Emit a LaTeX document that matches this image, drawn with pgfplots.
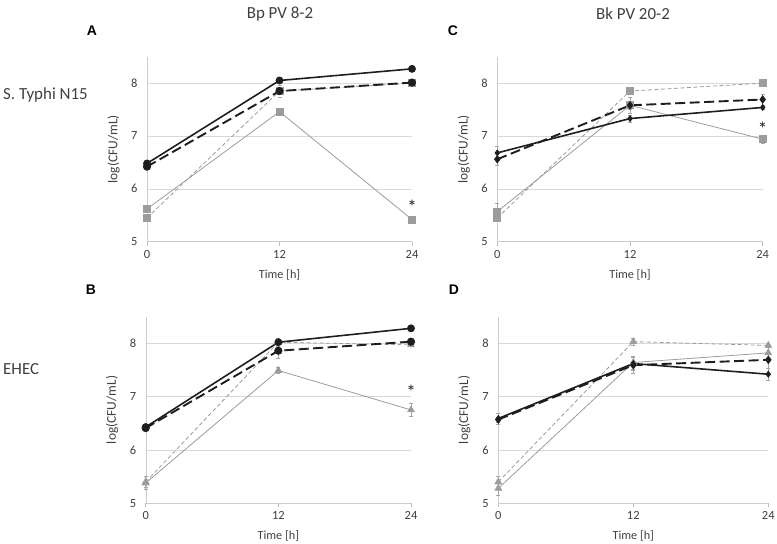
\documentclass[border=0pt]{standalone}
\usepackage{pgfplots}
\pgfplotsset{compat=1.18}
\usepackage{fontspec}
\setmainfont{Carlito}
\newfontfamily\arialb{Liberation Sans}
\definecolor{blk}{HTML}{1E1E1E}
\definecolor{gr}{HTML}{9C9C9C}
\definecolor{txt}{HTML}{404040}
\tikzset{ast/.style={font=\fontsize{19}{19}\selectfont, text=blk, yshift=-3.5bp}}
\pgfplotsset{
 panel/.style={
  scale only axis,
  xmin=0, xmax=24, ymin=5, ymax=8.5,
  xtick={0,12,24}, ytick={5,6,7,8},
  axis lines=left,
  axis line style={draw=gray!40,-},
  ymajorgrids, grid style={gray!30, line width=0.6pt},
  tick align=outside,
  xtick style={draw=gray!50, line width=0.6pt},
  ytick style={draw=none},
  major tick length=4bp,
  /pgf/number format/assume math mode=true,
  tick label style={font=\fontsize{12.5}{12.5}\selectfont, text=txt},
  xticklabel style={yshift=-1bp},
  yticklabel style={xshift=-2bp},
  xlabel={Time [h]},
  ylabel={log(CFU/mL)},
  every axis x label/.style={at={(axis description cs:0.5,0)}, anchor=center, yshift=-33bp, font=\fontsize{12.3}{12.3}\selectfont, text=txt},
  every axis y label/.style={at={(axis description cs:-0.09,0.5)}, rotate=90, anchor=south, font=\fontsize{13.5}{13.5}\selectfont, text=txt},
  clip=false,
  error bars/y dir=both, error bars/y explicit,
  error bars/error bar style={gray!70, line width=0.5pt},
  error bars/error mark options={rotate=90, mark size=2bp, gray!70},
 },
 bs/.style={blk, line width=1.6pt, solid, mark=*, mark size=3.1bp, mark options={solid, fill=blk}},
 bd/.style={blk, line width=1.9pt, dash pattern=on 10bp off 4.5bp, mark=*, mark size=3.1bp, mark options={solid, fill=blk}},
 bsd/.style={blk, line width=1.6pt, solid, mark=diamond*, mark size=2.3bp, mark options={solid, fill=blk}},
 bdd/.style={blk, line width=1.9pt, dash pattern=on 10bp off 4.5bp, mark=diamond*, mark size=2.8bp, mark options={solid, fill=blk}},
 gs/.style={gr, line width=0.8pt, solid, mark=square*, mark size=3.5bp, mark options={solid, fill=gr, draw=gr}},
 gd/.style={gr, line width=0.8pt, dash pattern=on 4bp off 2.5bp, mark=square*, mark size=3.5bp, mark options={solid, fill=gr, draw=gr}},
 gst/.style={gr, line width=0.8pt, solid, mark=triangle*, mark size=3.8bp, mark options={solid, fill=gr, draw=gr}},
 gdt/.style={gr, line width=0.8pt, dash pattern=on 4bp off 2.5bp, mark=triangle*, mark size=3.8bp, mark options={solid, fill=gr, draw=gr}},
}
\begin{document}
\begin{tikzpicture}
\path[use as bounding box] (0,0) rectangle (777bp,544bp);
% titles
\node[font=\fontsize{17}{17}\selectfont, text=txt] at (280bp,530bp) {Bp PV 8-2};
\node[font=\fontsize{17}{17}\selectfont, text=txt] at (633bp,530bp) {Bk PV 20-2};
\node[font=\fontsize{17}{17}\selectfont, text=txt, anchor=west, inner sep=0pt] at (3bp,449bp) {S. Typhi N15};
\node[font=\fontsize{17}{17}\selectfont, text=txt, anchor=west, inner sep=0pt] at (3bp,175bp) {EHEC};
\node[font=\arialb\bfseries\fontsize{14}{14}\selectfont] at (92bp,513bp) {A};
\node[font=\arialb\bfseries\fontsize{14}{14}\selectfont] at (453bp,513bp) {C};
\node[font=\arialb\bfseries\fontsize{14}{14}\selectfont] at (91bp,254bp) {B};
\node[font=\arialb\bfseries\fontsize{14}{14}\selectfont] at (454bp,254bp) {D};

% Panel A
\begin{axis}[panel, at={(147bp,302.3bp)}, anchor=south west, width=265bp, height=185bp]
\addplot[gs] table[y error=e] {x y e
0 5.62 0
12 7.46 0.03
24 5.42 0.03
};
\addplot[gd] table[y error=e] {x y e
0 5.45 0
12 7.85 0.12
24 8.00 0.03
};
\addplot[bd] table[y error=e] {x y e
0 6.42 0
12 7.85 0.03
24 8.01 0.03
};
\addplot[bs] table[y error=e] {x y e
0 6.48 0
12 8.05 0.02
24 8.27 0.02
};
\node[ast] at (axis cs:24,5.72) {*};
\end{axis}

% Panel C
\begin{axis}[panel, at={(497.3bp,302.3bp)}, anchor=south west, width=265.4bp, height=185bp]
\addplot[gs] table[y error=e] {x y e
0 5.57 0.15
12 7.58 0.15
24 6.94 0.08
};
\addplot[gd] table[y error=e] {x y e
0 5.45 0.05
12 7.85 0.05
24 8.00 0.03
};
\addplot[bdd] table[y error=e] {x y e
0 6.56 0.12
12 7.58 0.08
24 7.69 0.10
};
\addplot[bsd] table[y error=e] {x y e
0 6.68 0.12
12 7.33 0.07
24 7.54 0.03
};
\node[ast] at (axis cs:24,7.2) {*};
\end{axis}

% Panel B
\begin{axis}[panel, at={(145.7bp,40.7bp)}, anchor=south west, width=265.3bp, height=186.7bp]
\addplot[gst] table[y error=e] {x y e
0 5.38 0.12
12 7.49 0.06
24 6.75 0.12
};
\addplot[gdt] table[y error=e] {x y e
0 5.40 0.10
12 8.02 0.08
24 7.97 0.03
};
\addplot[bd] table[y error=e] {x y e
0 6.41 0
12 7.86 0.14
24 8.03 0.03
};
\addplot[bs] table[y error=e] {x y e
0 6.43 0
12 8.02 0.08
24 8.28 0.03
};
\node[ast] at (axis cs:24,7.15) {*};
\end{axis}

% Panel D
\begin{axis}[panel, at={(498.3bp,40.7bp)}, anchor=south west, width=270bp, height=186.7bp]
\addplot[gst] table[y error=e] {x y e
0 5.28 0.12
12 7.64 0.12
24 7.82 0.10
};
\addplot[gdt] table[y error=e] {x y e
0 5.40 0.10
12 8.03 0.07
24 7.96 0.03
};
\addplot[bdd] table[y error=e] {x y e
0 6.57 0.05
12 7.59 0.15
24 7.69 0.15
};
\addplot[bsd] table[y error=e] {x y e
0 6.59 0.10
12 7.62 0.12
24 7.42 0.12
};
\end{axis}
\end{tikzpicture}
\end{document}
